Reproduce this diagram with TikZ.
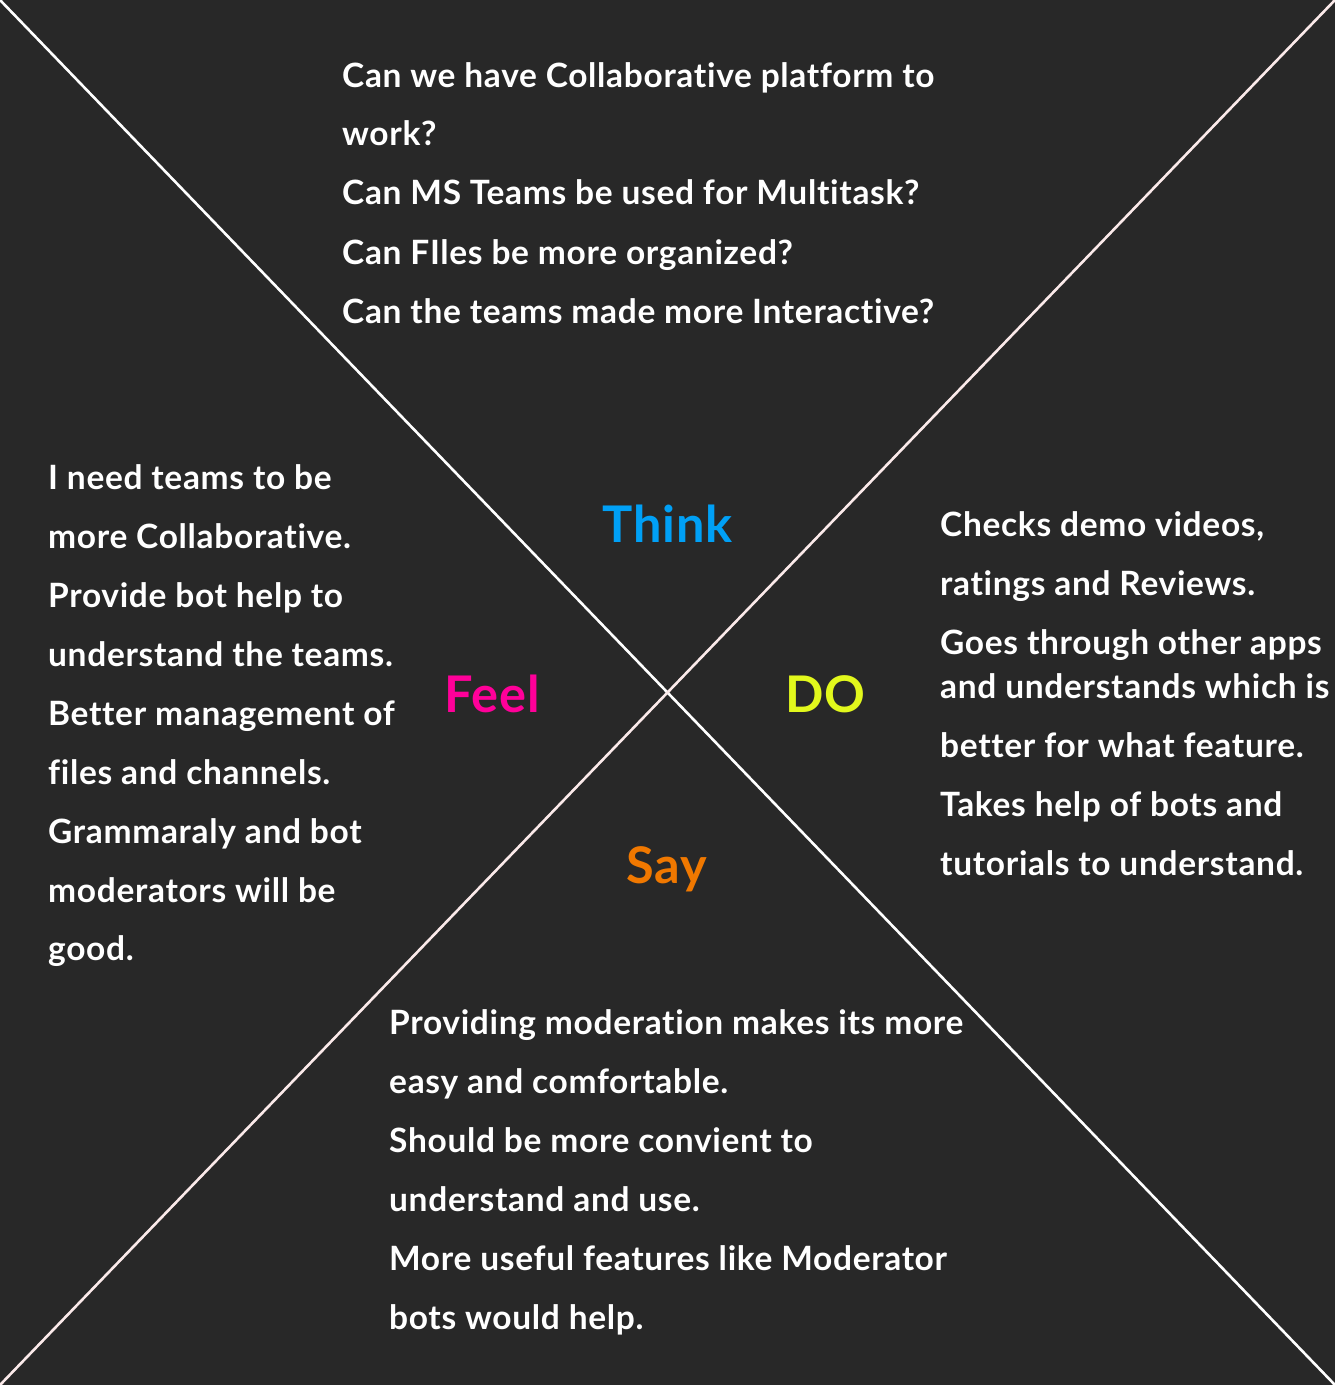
\documentclass[tikz,border=0pt]{standalone}
\usepackage{fontspec}
\setmainfont{Lato}[UprightFont=* Bold, LetterSpace=2, RawFeature={-liga}]
\definecolor{bg}{HTML}{282828}
\definecolor{thinkc}{HTML}{00A0F6}
\definecolor{feelc}{HTML}{FF0099}
\definecolor{doc}{HTML}{E2F81C}
\definecolor{sayc}{HTML}{F07800}
\definecolor{linea}{HTML}{FFFFFF}
\definecolor{lineb}{HTML}{FBEAEA}
\tikzset{
  txt/.style={anchor=base west, inner sep=0pt, text=white, font=\fontsize{33.5}{40}\selectfont},
  lbl/.style={anchor=base west, inner sep=0pt, font=\fontsize{50.5}{60}\selectfont},
  diag/.style={line width=2.6pt}
}
\begin{document}
\begin{tikzpicture}[x=1pt,y=-1pt]
  \fill[bg] (0,0) rectangle (1335,1385);
  \useasboundingbox (0,0) rectangle (1335,1385);
  % corners of the quadrant cross
  \coordinate (tl) at (0,0);
  \coordinate (br) at (1335,1385);
  \coordinate (tr) at (1335,0);
  \coordinate (bl) at (0,1385);
  \draw[diag, linea] (tl) -- (br);
  \draw[diag, lineb] (tr) -- (bl);

  % quadrant labels
  \node[lbl, text=thinkc] (think) at (602,542) {Think};
  \node[lbl, text=feelc]  (feel)  at (444,712) {Feel};
  \node[lbl, text=doc]    (do)    at (785,712) {DO};
  \node[lbl, text=sayc]   (say)   at (626,883) {Say};

  % Think
  \node[txt] (t1) at (342,87.5)  {Can we have Collaborative platform to};
  \node[txt] (t2) at (342,145.5) {work?};
  \node[txt] (t3) at (342,204.5) {Can MS Teams be used for Multitask?};
  \node[txt] (t4) at (342,264.5) {Can FIles be more organized?};
  \node[txt] (t5) at (342,323.5) {Can the teams made more Interactive?};

  % Feel
  \node[txt] (f1) at (48,489)   {I need teams to be};
  \node[txt] (f2) at (48,548)   {more Collaborative.};
  \node[txt] (f3) at (48,607)   {Provide bot help to};
  \node[txt] (f4) at (48,666)   {understand the teams.};
  \node[txt] (f5) at (48,725)   {Better management of};
  \node[txt] (f6) at (48,784)   {files and channels.};
  \node[txt] (f7) at (48,843)   {Grammaraly and bot};
  \node[txt] (f8) at (48,902)   {moderators will be};
  \node[txt] (f9) at (48,960.5) {good.};

  % DO
  \node[txt] (d1) at (940,536.5) {Checks demo videos,};
  \node[txt] (d2) at (940,595.5) {ratings and Reviews.};
  \node[txt] (d3) at (940,654.5) {Goes through other apps};
  \node[txt] (d4) at (940,698.5) {and understands which is};
  \node[txt] (d5) at (940,757.5) {better for what feature.};
  \node[txt] (d6) at (940,816.5) {Takes help of bots and};
  \node[txt] (d7) at (940,875.5) {tutorials to understand.};

  % Say
  \node[txt] (s1) at (389,1034.5) {Providing moderation makes its more};
  \node[txt] (s2) at (389,1093.5) {easy and comfortable.};
  \node[txt] (s3) at (389,1152.5) {Should be more convient to};
  \node[txt] (s4) at (389,1211.5) {understand and use.};
  \node[txt] (s5) at (389,1270.5) {More useful features like Moderator};
  \node[txt] (s6) at (389,1329.5) {bots would help.};
\end{tikzpicture}
\end{document}
